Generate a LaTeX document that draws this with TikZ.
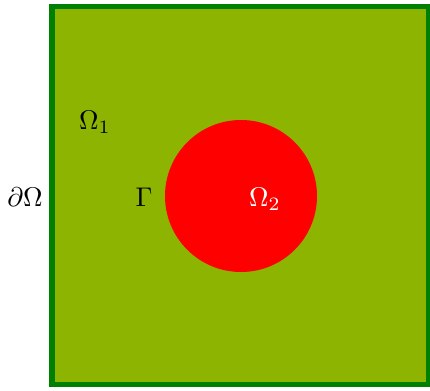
\documentclass[tikz,border=0pt]{standalone}
\definecolor{olivefill}{RGB}{140,180,0}
\definecolor{borderg}{RGB}{0,128,0}
\begin{document}
\begin{tikzpicture}[x=0.37pt,y=-0.37pt,
  lbl/.style={inner sep=0pt,font=\normalsize}]
\useasboundingbox (0,0) rectangle (430,390);
\begin{scope}
\clip (0,0) rectangle (430,390);
\draw[borderg,fill=olivefill,line width=1.9pt] (52,6.5) rectangle (429,384.5);
\end{scope}
\fill[red] (241,196) circle[radius=76];
\node[lbl] (o1) at (95,122) {$\Omega_1$};
\node[lbl] (dO) at (25,197) {$\partial\Omega$};
\node[lbl] (g) at (144,197) {$\Gamma$};
\node[lbl,text=white] (o2) at (265,199) {$\Omega_2$};
\end{tikzpicture}
\end{document}
